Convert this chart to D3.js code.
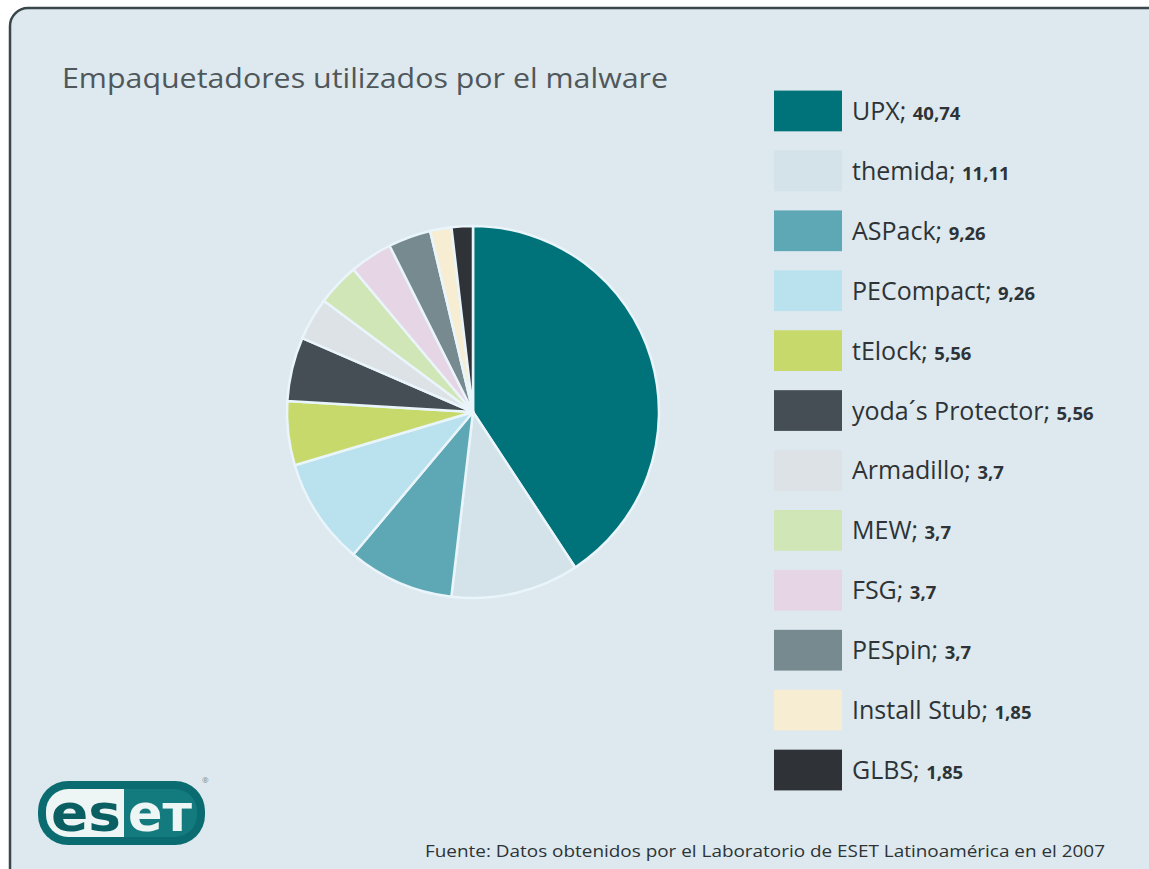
<!DOCTYPE html>
<html lang="es">
<head>
<meta charset="UTF-8">
<title>Empaquetadores utilizados por el malware</title>
<script src="https://d3js.org/d3.v7.min.js"></script>
<style>
  body { margin: 0; background: #ffffff; }
  svg { display: block; }
</style>
</head>
<body>
<div id="chart"></div>
<script>
// Data
const packers = ["UPX", "themida", "ASPack", "PECompact", "tElock", "yoda\u00B4s Protector",
                 "Armadillo", "MEW", "FSG", "PESpin", "Install Stub", "GLBS"];
const shares = [40.74, 11.11, 9.26, 9.26, 5.56, 5.56, 3.7, 3.7, 3.7, 3.7, 1.85, 1.85];
const shareLabels = ["40,74", "11,11", "9,26", "9,26", "5,56", "5,56", "3,7", "3,7", "3,7", "3,7", "1,85", "1,85"];
const colors = ["#00737a", "#d3e3e9", "#5da8b4", "#b9e1ee", "#c8d96b", "#454e55",
                "#dde2e7", "#d1e6b6", "#e6d5e4", "#768a90", "#f6edd2", "#2f3337"];

const W = 1149, H = 869;
const font = "'Open Sans', 'DejaVu Sans', sans-serif";

const svg = d3.select("#chart").append("svg")
    .attr("width", W)
    .attr("height", H);

// panel
svg.append("rect")
    .attr("x", 10).attr("y", 8)
    .attr("width", W + 40).attr("height", H + 20)
    .attr("rx", 18)
    .attr("fill", "#dde9ee")
    .attr("stroke", "#39464a")
    .attr("stroke-width", 2.5);

// title
svg.append("text")
    .attr("x", 62).attr("y", 88)
    .attr("font-family", font)
    .attr("font-size", 28)
    .attr("fill", "#50575b")
    .attr("textLength", 606)
    .attr("lengthAdjust", "spacingAndGlyphs")
    .text("Empaquetadores utilizados por el malware");

// pie
const cx = 473, cy = 412, r = 186;
const pie = d3.pie().sort(null).value(d => d)(shares);
const arc = d3.arc().innerRadius(0).outerRadius(r);

svg.append("g")
    .attr("transform", `translate(${cx},${cy})`)
    .selectAll("path")
    .data(pie)
    .join("path")
    .attr("d", arc)
    .attr("fill", (d, i) => colors[i])
    .attr("stroke", "#e9f5fa")
    .attr("stroke-width", 2.5)
    .attr("stroke-linejoin", "round");

// legend
const y = d3.scaleBand()
    .domain(packers)
    .range([81, 800])
    .paddingInner(0.32)
    .paddingOuter(0.16);

const legend = svg.append("g")
    .selectAll("g")
    .data(packers)
    .join("g")
    .attr("transform", d => `translate(774,${y(d)})`);

legend.append("rect")
    .attr("width", 68)
    .attr("height", y.bandwidth())
    .attr("fill", (d, i) => colors[i]);

const label = legend.append("text")
    .attr("x", 78)
    .attr("y", y.bandwidth() / 2 + 9)
    .attr("font-family", font)
    .attr("fill", "#2d3336");

label.append("tspan")
    .attr("font-size", 25)
    .text(d => d + "; ");

label.append("tspan")
    .attr("font-size", 18.5)
    .attr("font-weight", "bold")
    .text((d, i) => shareLabels[i]);

// footer
svg.append("text")
    .attr("x", 425).attr("y", 857)
    .attr("font-family", font)
    .attr("font-size", 16)
    .attr("fill", "#2d3336")
    .attr("textLength", 680)
    .attr("lengthAdjust", "spacingAndGlyphs")
    .text("Fuente: Datos obtenidos por el Laboratorio de ESET Latinoamérica en el 2007");

// ESET logo
const logo = svg.append("g").attr("transform", "translate(38,781)");
logo.append("rect")
    .attr("width", 167).attr("height", 64).attr("rx", 30)
    .attr("fill", "#0a6c70");
logo.append("rect")
    .attr("x", 8).attr("y", 8).attr("width", 151).attr("height", 48).attr("rx", 22)
    .attr("fill", "#137a7e");
logo.append("path")
    .attr("d", "M30,8 H86 V56 H30 A22,22 0 0 1 8,34 V30 A22,22 0 0 1 30,8 Z")
    .attr("fill", "#eef5f5");
logo.append("text")
    .attr("x", 13).attr("y", 50)
    .attr("font-family", "'DejaVu Sans', sans-serif")
    .attr("font-weight", "bold")
    .attr("font-size", 52)
    .attr("fill", "#0a5f63")
    .attr("textLength", 70)
    .attr("lengthAdjust", "spacingAndGlyphs")
    .text("es");
logo.append("text")
    .attr("x", 90).attr("y", 50)
    .attr("font-family", "'DejaVu Sans', sans-serif")
    .attr("font-weight", "bold")
    .attr("font-size", 52)
    .attr("fill", "#eef5f5")
    .attr("textLength", 64)
    .attr("lengthAdjust", "spacingAndGlyphs")
    .text("eт");
logo.append("text")
    .attr("x", 164).attr("y", 2)
    .attr("font-family", font)
    .attr("font-size", 8)
    .attr("fill", "#7a8a8c")
    .text("®");
</script>
</body>
</html>
